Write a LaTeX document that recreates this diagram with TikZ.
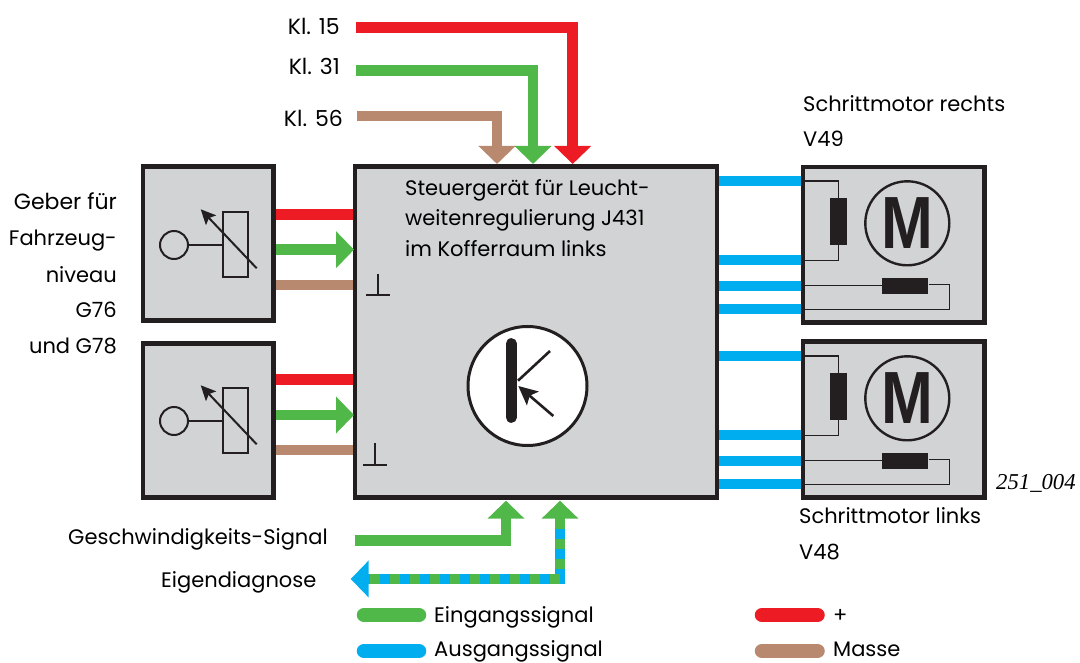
\documentclass[tikz,border=0pt]{standalone}
\usepackage{fontspec}
\setmainfont{Poppins}
\newfontfamily\numfont{Liberation Serif}
\newfontfamily\motfont{Liberation Sans}
\usetikzlibrary{arrows.meta}
\definecolor{plusred}{RGB}{237,28,36}
\definecolor{insgreen}{RGB}{80,184,72}
\definecolor{outblue}{RGB}{0,174,239}
\definecolor{earthbrown}{RGB}{184,137,110}
\definecolor{boxgrey}{RGB}{209,211,212}
\definecolor{inkblack}{RGB}{35,31,32}
\begin{document}
\begin{tikzpicture}[
        x=1pt, y=-1pt,
        fatarrow/.style={-{Triangle[length=18pt,width=36pt]}, line width=10.5pt, miter limit=10},
        wire/.style={line width=10.5pt, miter limit=10},
        boxnode/.style={rectangle, draw=inkblack, fill=boxgrey, line width=4.7pt, inner sep=0pt},
        symline/.style={draw=inkblack, line width=2pt},
        thinline/.style={draw=inkblack, line width=1.2pt},
        coilnode/.style={rectangle, fill=inkblack, inner sep=0pt},
        label/.style={inner sep=0pt, font=\fontsize{21}{24}\selectfont, text=black},
        klemme/.style={inner sep=0pt, font=\fontsize{22}{24}\selectfont, text=black},
        legendbar/.style={line width=14.5pt, line cap=round}
    ]
        \useasboundingbox (0,0) rectangle (1080,663);

        % boxes
        \node [boxnode, minimum width=362pt, minimum height=331.3pt] (ctrl) at (536,332) {};
        \node [boxnode, minimum width=130.6pt, minimum height=154pt] (gebA) at (208.3,243.3) {};
        \node [boxnode, minimum width=130.6pt, minimum height=154pt] (gebB) at (208.3,420.3) {};
        \node [boxnode, minimum width=181.3pt, minimum height=155.3pt] (motA) at (893.7,244.7) {};
        \node [boxnode, minimum width=181.3pt, minimum height=155.7pt] (motB) at (893.7,419.5) {};

        % supply lines from the top
        \coordinate (kl15) at (356,27.3);
        \coordinate (kl31) at (356,70.3);
        \coordinate (kl56) at (357,116);
        \coordinate (ctrlTopR) at (572.7,164);
        \coordinate (ctrlTopG) at (533,164);
        \coordinate (ctrlTopB) at (497,164);
        \draw[fatarrow, plusred] (kl15) -| (ctrlTopR);
        \draw[fatarrow, insgreen] (kl31) -| (ctrlTopG);
        \draw[fatarrow, earthbrown] (kl56) -| (ctrlTopB);

        % sensors
        \coordinate (ctrlA1) at (353,214.5);
        \coordinate (ctrlA2) at (354,249.7);
        \coordinate (ctrlA3) at (353,285);
        \coordinate (ctrlB1) at (353,379.7);
        \coordinate (ctrlB2) at (354,415);
        \coordinate (ctrlB3) at (353,450);
        \draw[wire, plusred] (gebA.east |- ctrlA1) -- (ctrlA1);
        \draw[fatarrow, insgreen] (gebA.east |- ctrlA2) -- (ctrlA2);
        \draw[wire, earthbrown] (gebA.east |- ctrlA3) -- (ctrlA3);
        \draw[wire, plusred] (gebB.east |- ctrlB1) -- (ctrlB1);
        \draw[fatarrow, insgreen] (gebB.east |- ctrlB2) -- (ctrlB2);
        \draw[wire, earthbrown] (gebB.east |- ctrlB3) -- (ctrlB3);

        % motor lines
        \coordinate (motA1) at (801,181);
        \coordinate (motA2) at (801,260);
        \coordinate (motA3) at (801,286);
        \coordinate (motA4) at (801,309);
        \coordinate (motB1) at (801,356);
        \coordinate (motB2) at (801,435);
        \coordinate (motB3) at (801,461);
        \coordinate (motB4) at (801,484);
        \draw[wire, outblue] (ctrl.east |- motA1) -- (motA1);
        \draw[wire, outblue] (ctrl.east |- motA2) -- (motA2);
        \draw[wire, outblue] (ctrl.east |- motA3) -- (motA3);
        \draw[wire, outblue] (ctrl.east |- motA4) -- (motA4);
        \draw[wire, outblue] (ctrl.east |- motB1) -- (motB1);
        \draw[wire, outblue] (ctrl.east |- motB2) -- (motB2);
        \draw[wire, outblue] (ctrl.east |- motB3) -- (motB3);
        \draw[wire, outblue] (ctrl.east |- motB4) -- (motB4);

        % signals at the bottom
        \coordinate (speed) at (354.7,540.7);
        \coordinate (ctrlBotG) at (506,500.7);
        \coordinate (ctrlBotD) at (560,500.7);
        \coordinate (diagHead) at (560,519);
        \coordinate (diagEnd) at (350.7,579);
        \coordinate (diagRun) at (369,579);
        \draw[fatarrow, insgreen] (speed) -| (ctrlBotG);
        \draw[wire, outblue, {Triangle[length=18pt,width=36pt]}-] (diagEnd) -- (560,579) -- (diagHead);
        \draw[wire, insgreen, dash pattern=on 10pt off 10pt] (diagHead) |- (diagRun);
        \draw[fatarrow, insgreen] (diagHead) -- (ctrlBotD);

        % sensor symbols
        \foreach \name/\dy in {A/0, B/176} {
            \begin{scope}[yshift=-\dy pt]
                \node [circle, symline, minimum size=28pt, inner sep=0pt] (dial\name) at (174,245) {};
                \node [rectangle, symline, minimum width=24.8pt, minimum height=64.7pt, inner sep=0pt] (res\name) at (235.1,244.7) {};
                \draw[symline] (dial\name) -- (res\name.west |- dial\name);
                \coordinate (tipTop\name) at (200.7,209.3);
                \coordinate (tipEnd\name) at (256.7,268.3);
                \draw[symline, -{Stealth[length=15pt,width=14pt,inset=3pt]}] (tipEnd\name) -- (tipTop\name);
            \end{scope}
        }

        % motors
        \foreach \name/\dy in {A/0, B/175} {
            \begin{scope}[yshift=-\dy pt]
                \node [circle, draw=inkblack, line width=2.4pt, minimum size=84pt, inner sep=0pt] (rot\name) at (907.3,223.3) {};
                \node [xscale=.84, inner sep=0pt, text=inkblack, font=\motfont\bfseries\fontsize{74}{74}\selectfont] (rotM\name) at (907.3,223.3) {M};
                \node [coilnode, minimum width=16.7pt, minimum height=46.7pt] (coilV\name) at (838.3,221.3) {};
                \node [coilnode, minimum width=46.6pt, minimum height=16pt] (coilH\name) at (905,286) {};
                \draw[thinline] (805,181) -| (coilV\name.north);
                \draw[thinline] (coilV\name.south) |- (805,260.7);
                \draw[thinline] (805,285.3) -- (coilH\name.west |- 805,285.3);
                \draw[thinline] (coilH\name.east |- 805,284.7) -| (949.3,309.3) -- (805,309.3);
            \end{scope}
        }

        % ground symbols
        \foreach \name/\px/\py in {A/378/274, B/375/443.3} {
            \coordinate (earth\name) at (\px,\py);
            \coordinate (earthL\name) at ({\px-11.8},{\py+21.3});
            \coordinate (earthR\name) at ({\px+11.8},{\py+21.3});
            \draw[symline] (earth\name) -- (earth\name |- earthL\name);
            \draw[symline] (earthL\name) -- (earthR\name);
        }

        % transistor
        \node [circle, draw=inkblack, fill=white, line width=3pt, minimum size=119pt, inner sep=0pt] (trans) at (527.5,386) {};
        \coordinate (baseTop) at (511.3,343.5);
        \coordinate (baseBot) at (511.3,417.5);
        \coordinate (collIn) at (518,380.7);
        \coordinate (collOut) at (550,351);
        \coordinate (emitIn) at (553.3,416);
        \coordinate (emitOut) at (518.3,386);
        \draw[inkblack, line width=10.7pt, line cap=round] (baseTop) -- (baseBot);
        \draw[inkblack, line width=2.6pt] (collIn) -- (collOut);
        \draw[inkblack, line width=2.6pt, -{Stealth[length=19pt,width=18pt,inset=4pt]}] (emitIn) -- (emitOut);

        % texts
        \node [klemme, anchor=base east] (t15) at (340,35) {Kl. 15};
        \node [klemme, anchor=base east] (t31) at (340,75) {Kl. 31};
        \node [klemme, anchor=base east] (t56) at (343,127) {Kl. 56};
        \node [label, anchor=base west] (tCa) at (405,196) {Steuergerät für Leucht-};
        \node [label, anchor=base west] (tCb) at (405,226) {weitenregulierung J431};
        \node [label, anchor=base west] (tCc) at (405,257) {im Kofferraum links};
        \node [klemme, anchor=base east] (tGa) at (117,210) {Geber für};
        \node [label, anchor=base east] (tGb) at (117,246) {Fahrzeug-};
        \node [label, anchor=base east] (tGc) at (117,283) {niveau};
        \node [label, anchor=base east] (tGd) at (117,318) {G76};
        \node [label, anchor=base east] (tGe) at (117,354) {und G78};
        \node [label, anchor=base west] (tRa) at (803,112) {Schrittmotor rechts};
        \node [label, anchor=base west] (tRb) at (803,147) {V49};
        \node [label, anchor=base west] (tLa) at (799,523) {Schrittmotor links};
        \node [label, anchor=base west] (tLb) at (799,559) {V48};
        \node [label, anchor=base west] (tSpeed) at (68,544) {Geschwindigkeits-Signal};
        \node [label, anchor=base west] (tDiag) at (161,587) {Eigendiagnose};
        \node [anchor=base west, inner sep=0pt, font=\numfont\itshape\fontsize{22.7}{24}\selectfont] (tNum) at (996,489) {251\_004};

        % legend
        \coordinate (legGa) at (364,615);
        \coordinate (legGb) at (419,615);
        \coordinate (legBa) at (364,651);
        \coordinate (legBb) at (419,651);
        \coordinate (legRa) at (762,615);
        \coordinate (legRb) at (817.5,615);
        \coordinate (legMa) at (762,651);
        \coordinate (legMb) at (817.5,651);
        \draw[legendbar, insgreen] (legGa) -- (legGb);
        \draw[legendbar, outblue] (legBa) -- (legBb);
        \draw[legendbar, plusred] (legRa) -- (legRb);
        \draw[legendbar, earthbrown] (legMa) -- (legMb);
        \node [label, anchor=base west] (tEin) at (434,622) {Eingangssignal};
        \node [label, anchor=base west] (tAus) at (434,656) {Ausgangssignal};
        \node [label, anchor=base west] (tPlus) at (833,622) {+};
        \node [label, anchor=base west] (tMasse) at (833,656) {Masse};

    \end{tikzpicture}
\end{document}
